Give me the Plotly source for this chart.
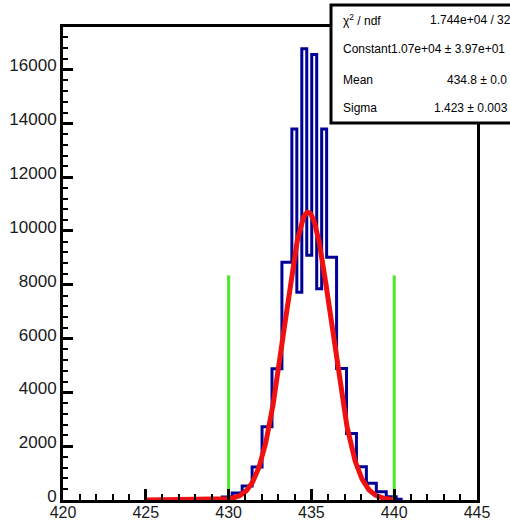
import numpy as np
import plotly.graph_objects as go

# Histogram: fixed-width bins starting at bin_first_edge
bin_first_edge = 429.32
bin_width = 0.3
counts = [30, 110, 110, 260, 260, 520, 520, 1230, 1230, 2720, 2720, 4880, 4880,
          8840, 8840, 13790, 7720, 16770, 9100, 16560, 7850, 13790, 9020, 9020,
          4890, 4890, 2470, 2470, 1234, 1234, 618, 618, 309, 309, 123, 123, 30]

# Gaussian fit results
fit_constant = 1.07e4
fit_mean = 434.8
fit_sigma = 1.423
fit_range = [425.0, 440.0]

# Window markers
marker_x = [430.0, 440.0]
marker_height = 8350

# Stats box rows
stat_labels = ["χ<sup>2</sup> / ndf", "Constant", "Mean", "Sigma"]
stat_values = ["1.744e+04 / 32", "1.07e+04 ± 3.97e+01", "434.8 ± 0.0", "1.423 ± 0.003"]

x_range = [420, 445]
y_range = [0, 17580]

W, H = 510, 522
L, R, T, B = 63, 33, 27, 22
pw, ph = W - L - R, H - T - B


def px_x(p):
    return (p - L) / pw


def px_y(p):
    return (H - B - p) / ph


edges = bin_first_edge + bin_width * np.arange(len(counts) + 1)
step_x = [edges[0]] + list(edges[:-1]) + [edges[-1], edges[-1]]
step_y = [0] + list(counts) + [counts[-1], 0]

fx = np.linspace(fit_range[0], fit_range[1], 400)
fy = fit_constant * np.exp(-0.5 * ((fx - fit_mean) / fit_sigma) ** 2)

fig = go.Figure()
fig.add_trace(go.Scatter(x=step_x, y=step_y, mode="lines",
                         line=dict(color="#000096", width=3, shape="hv"),
                         hoverinfo="skip"))
fig.add_trace(go.Scatter(x=fx, y=fy, mode="lines",
                         line=dict(color="#f01010", width=5),
                         hoverinfo="skip"))
for mx in marker_x:
    fig.add_trace(go.Scatter(x=[mx, mx], y=[0, marker_height], mode="lines",
                             line=dict(color="#4fe62a", width=3),
                             hoverinfo="skip"))

font = "Liberation Sans, Arial, Helvetica, sans-serif"
axis_common = dict(showgrid=False, zeroline=False, showline=True, mirror=True,
                   linecolor="black", linewidth=3, ticks="inside",
                   tickcolor="black", tickwidth=3, automargin=False,
                   tickformat="d")

fig.update_layout(
    width=W, height=H,
    margin=dict(l=L, r=R, t=T, b=B, autoexpand=False),
    paper_bgcolor="white", plot_bgcolor="white",
    showlegend=False,
    xaxis=dict(range=x_range, dtick=5, tick0=420, ticklen=11, ticklabelstandoff=-4,
               tickfont=dict(family=font, size=16, color="#1a1a1a"),
               minor=dict(dtick=1, ticklen=6, ticks="inside", tickwidth=2, tickcolor="black"),
               **axis_common),
    yaxis=dict(range=y_range, dtick=2000, ticklen=10, ticklabelshift=-4,
               tickfont=dict(family=font, size=17, color="#1a1a1a"),
               minor=dict(dtick=400, ticklen=5, ticks="inside", tickwidth=2, tickcolor="black"),
               **axis_common),
)

# Stats box
box_left, box_top, box_bottom = 331, 5, 123
fig.add_shape(type="rect", xref="paper", yref="paper",
              x0=px_x(box_left), x1=px_x(540), y0=px_y(box_bottom), y1=px_y(box_top),
              line=dict(color="black", width=3), fillcolor="white", layer="above")

row_y = [20, 49, 80, 108]
value_x = [428, 389, 445, 432]
for lab, val, ry, vx in zip(stat_labels, stat_values, row_y, value_x):
    fig.add_annotation(text=lab, xref="paper", yref="paper", x=px_x(341), y=px_y(ry),
                       xanchor="left", yanchor="middle", showarrow=False,
                       font=dict(family=font, size=12, color="black"))
    fig.add_annotation(text=val, xref="paper", yref="paper", x=px_x(vx), y=px_y(ry),
                       xanchor="left", yanchor="middle", showarrow=False,
                       font=dict(family=font, size=12, color="black"))

fig.write_html("out.html")
